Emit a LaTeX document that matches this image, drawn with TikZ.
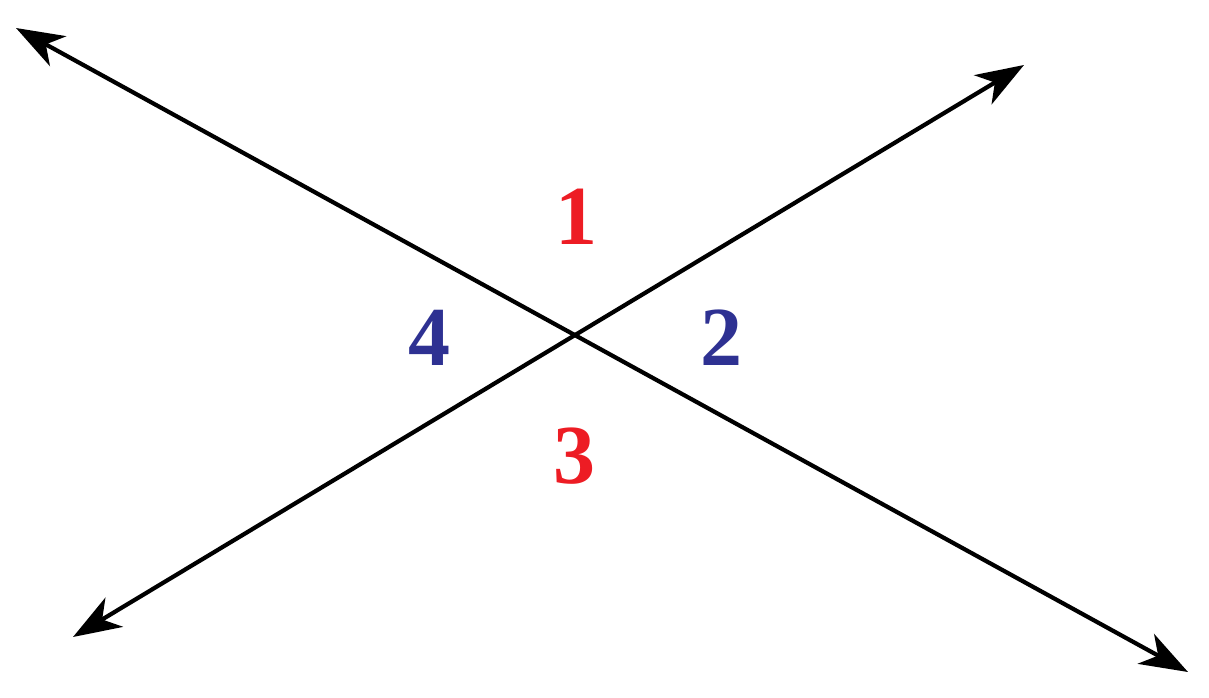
\documentclass[tikz,border=0pt]{standalone}
\usepackage{fontspec}
\setmainfont{Liberation Serif}
\usetikzlibrary{arrows.meta}
\definecolor{numred}{RGB}{237,28,36}
\definecolor{numblue}{RGB}{46,49,146}
\tikzset{
  line/.style={line width=2.1pt, {Stealth[length=24pt,width=17pt,inset=7pt]}-{Stealth[length=24pt,width=17pt,inset=7pt]}},
  num/.style={inner sep=0pt, font=\fontsize{42}{42}\selectfont\bfseries},
}
\begin{document}
\begin{tikzpicture}[x=0.5pt,y=-0.5pt]
\useasboundingbox (0,0) rectangle (1209,697);
\coordinate (a1) at (16,28);
\coordinate (a2) at (1188,672);
\coordinate (b1) at (1024,65);
\coordinate (b2) at (73,637);
\draw[line] (a1) -- (a2);
\draw[line] (b1) -- (b2);
\node[num, text=numred] (n1) at (576,217) {1};
\node[num, text=numblue] (n2) at (721,338) {2};
\node[num, text=numred] (n3) at (574,456) {3};
\node[num, text=numblue] (n4) at (429,338) {4};
\end{tikzpicture}
\end{document}
